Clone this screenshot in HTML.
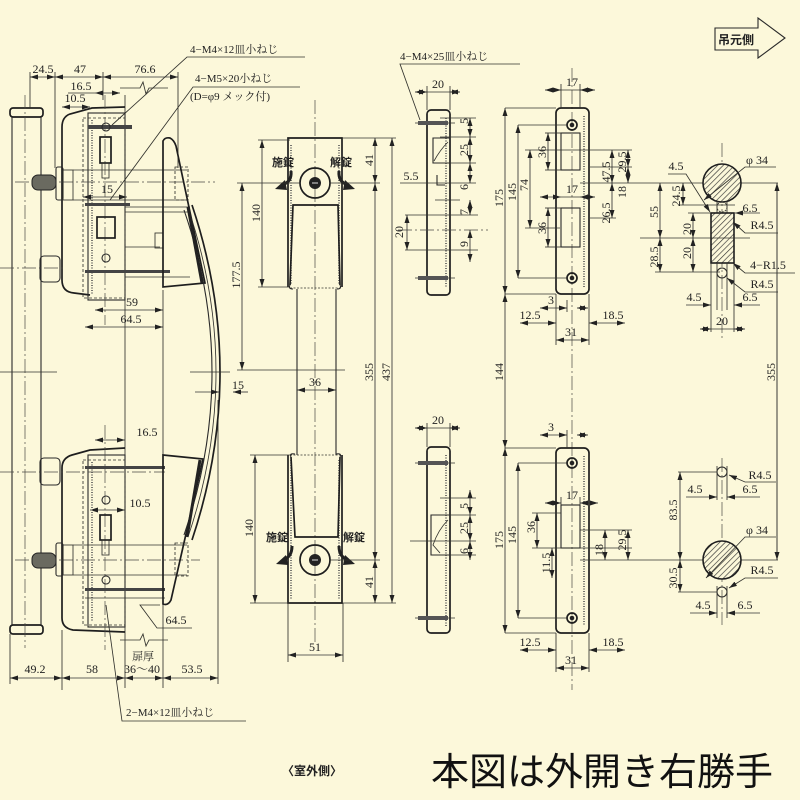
<!DOCTYPE html>
<html><head><meta charset="utf-8">
<style>
html,body{margin:0;padding:0;background:#fcf8da;}
svg{display:block}
.l{stroke:#33332e;stroke-width:.85;fill:none}
.k{stroke:#1e1e1e;stroke-width:1.7;fill:none}
.m{stroke:#2a2a2a;stroke-width:1.1;fill:none}
.c{stroke:#4a4a44;stroke-width:.7;fill:none;stroke-dasharray:14 3 2 3}
.d{stroke:#333;stroke-width:.85;fill:none}
.dt{stroke:#555;stroke-width:1.6;fill:none;stroke-dasharray:1 1.5}
text{font-family:"Liberation Serif","Noto Serif CJK JP",serif;font-size:12px;fill:#222}
.s{font-size:11px}
.b{font-family:"Liberation Sans","Noto Sans CJK JP",sans-serif;font-weight:bold;font-size:11px}
</style></head><body>
<svg width="800" height="800" viewBox="0 0 800 800" xmlns="http://www.w3.org/2000/svg">
<defs>
<marker id="a" markerUnits="userSpaceOnUse" markerWidth="8" markerHeight="5" refX="8" refY="2.5" orient="auto-start-reverse" viewBox="0 0 8 5"><path d="M0,0L8,2.5L0,5z" fill="#222"/></marker>
<pattern id="h" width="4" height="4" patternUnits="userSpaceOnUse" patternTransform="rotate(45)"><rect width="4" height="4" fill="#fcf8da"/><line x1="0" y1="0" x2="0" y2="4" stroke="#333" stroke-width="1.3"/></pattern>
</defs>
<rect width="800" height="800" fill="#fcf8da"/>

<!-- ================= LEFT SIDE VIEW ================= -->
<rect class="k" x="10" y="108" width="33" height="9" rx="3"/>
<rect class="k" x="10" y="625" width="33" height="9" rx="3"/>
<line class="m" x1="12" y1="117" x2="12" y2="625"/>
<line class="m" x1="41" y1="117" x2="41" y2="625"/>
<line class="c" x1="25" y1="95" x2="25" y2="648"/>

<line class="l" x1="30" y1="72" x2="30" y2="108"/>
<line class="l" x1="55" y1="72" x2="55" y2="168"/>
<line class="l" x1="103" y1="72" x2="103" y2="100"/>
<line class="l" x1="178" y1="72" x2="178" y2="168"/>
<line class="l" x1="125" y1="95" x2="125" y2="688"/>
<line class="l" x1="163" y1="290" x2="163" y2="688"/>
<line class="l" x1="62" y1="630" x2="62" y2="690"/>
<line class="l" x1="218" y1="400" x2="218" y2="684"/>
<line class="l" x1="10" y1="634" x2="10" y2="684"/>

<g class="d" marker-start="url(#a)" marker-end="url(#a)">
<line x1="30" y1="77" x2="55" y2="77"/>
<line x1="55" y1="77" x2="103" y2="77"/>
<line x1="103" y1="77" x2="178" y2="77"/>
<line x1="95" y1="93" x2="120" y2="93"/>
<line x1="62" y1="107" x2="90" y2="107"/>
<line x1="83" y1="197" x2="127" y2="197"/>
<line x1="95" y1="310" x2="163" y2="310"/>
<line x1="85" y1="327" x2="163" y2="327"/>
<line x1="95" y1="440" x2="125" y2="440"/>
<line x1="90" y1="510" x2="125" y2="510"/>
<line x1="10" y1="678" x2="62" y2="678"/>
<line x1="62" y1="678" x2="125" y2="678"/>
<line x1="125" y1="678" x2="163" y2="678"/>
<line x1="163" y1="678" x2="218" y2="678"/>
</g>
<line class="l" x1="68" y1="93" x2="95" y2="93"/>
<line class="l" x1="120" y1="107" x2="125" y2="107"/>
<path class="l" d="M120,88 L140,88 L143,82 L146,94 L149,88 L168,88"/>
<path class="l" d="M120,640 L140,640 L143,634 L146,646 L149,640 L168,640"/>
<text x="43" y="73" text-anchor="middle">24.5</text>
<text x="80" y="73" text-anchor="middle">47</text>
<text x="145" y="73" text-anchor="middle">76.6</text>
<text x="81" y="90" text-anchor="middle">16.5</text>
<text x="75" y="102" text-anchor="middle">10.5</text>
<text x="107" y="193" text-anchor="middle">15</text>
<text x="132" y="306" text-anchor="middle">59</text>
<text x="131" y="323" text-anchor="middle">64.5</text>
<text x="147" y="436" text-anchor="middle">16.5</text>
<text x="140" y="507" text-anchor="middle">10.5</text>
<text x="176" y="624" text-anchor="middle">64.5</text>
<path class="l" d="M160,605 L140,605 L157,628 L192,628"/>
<text x="143" y="660" text-anchor="middle" class="s">扉厚</text>
<text x="142" y="673" text-anchor="middle">36〜40</text>
<text x="35" y="673" text-anchor="middle">49.2</text>
<text x="92" y="673" text-anchor="middle">58</text>
<text x="192" y="673" text-anchor="middle">53.5</text>

<text x="190" y="53" class="s">4−M4×12皿小ねじ</text>
<path class="l" d="M305,57 L187,57 L112,125"/>
<text x="195" y="82" class="s">4−M5×20小ねじ</text>
<text x="190" y="100" class="s">(D=φ9 メック付)</text>
<path class="l" d="M300,87 L193,87 L110,200"/>
<text x="126" y="716" class="s">2−M4×12皿小ねじ</text>
<path class="l" d="M246,721 L122,721 L106,605"/>

<!-- upper lockcase -->
<path class="k" d="M125,107 L92,108 L70,114 Q62,117 62,127 L62,280 Q62,292 74,293 L90,295"/>
<rect class="m" x="88" y="113" width="37" height="187"/>
<rect class="l" x="83" y="118" width="42" height="180" stroke-dasharray="3 2"/>
<line class="dt" x1="92" y1="120" x2="92" y2="295"/>
<line class="c" x1="105" y1="95" x2="105" y2="325"/>
<rect x="88" y="125" width="44" height="4" fill="#444"/>
<circle class="m" cx="106" cy="127" r="4"/>
<rect class="k" x="100" y="137" width="11" height="26"/>
<rect class="l" x="102" y="163" width="7" height="15"/>
<rect x="85" y="203" width="45" height="3" fill="#444"/>
<line class="l" x1="125" y1="207" x2="190" y2="207"/>
<line class="l" x1="125" y1="212" x2="190" y2="212"/>
<rect class="k" x="97" y="217" width="18" height="21"/>
<line class="l" x1="125" y1="247" x2="160" y2="247"/>
<rect class="l" x="155" y="233" width="8" height="15"/>
<circle class="m" cx="106" cy="258" r="4"/>
<rect x="85" y="270" width="85" height="3" fill="#444"/>
<line class="l" x1="125" y1="277" x2="190" y2="277"/>

<line class="c" x1="15" y1="182" x2="215" y2="182"/>
<rect x="32" y="175" width="24" height="15" rx="6" fill="#6a6a60" stroke="#222" stroke-width="1"/>
<rect class="m" x="56" y="167" width="7" height="33" rx="2"/>
<rect class="l" x="63" y="170" width="10" height="30"/>
<line class="l" x1="73" y1="170" x2="187" y2="170"/>
<line class="l" x1="73" y1="200" x2="187" y2="200"/>
<rect class="l" x="175" y="167" width="13" height="33" stroke-dasharray="3 2"/>
<line class="c" x1="0" y1="268" x2="64" y2="268"/>
<rect class="m" x="40" y="256" width="20" height="26" rx="4"/>
<line class="l" x1="0" y1="372" x2="57" y2="372"/>

<!-- lower lockcase -->
<path class="k" d="M125,448 L90,450 L72,455 Q62,458 62,468 L62,618 Q62,628 73,630 L125,632"/>
<rect class="m" x="88" y="455" width="37" height="172"/>
<rect class="l" x="83" y="460" width="42" height="165" stroke-dasharray="3 2"/>
<line class="dt" x1="92" y1="462" x2="92" y2="622"/>
<line class="c" x1="105" y1="425" x2="105" y2="650"/>
<line class="c" x1="0" y1="472" x2="165" y2="472"/>
<rect x="85" y="466" width="80" height="3" fill="#444"/>
<rect class="m" x="40" y="458" width="20" height="27" rx="4"/>
<circle class="m" cx="106" cy="500" r="4"/>
<rect class="k" x="100" y="515" width="11" height="25"/>
<rect class="l" x="102" y="540" width="7" height="15"/>
<circle class="m" cx="106" cy="580" r="4"/>
<rect x="85" y="588" width="80" height="3" fill="#444"/>
<line class="l" x1="85" y1="598" x2="165" y2="598"/>
<line class="c" x1="15" y1="560" x2="200" y2="560"/>
<rect x="32" y="553" width="24" height="15" rx="6" fill="#6a6a60" stroke="#222" stroke-width="1"/>
<rect class="m" x="56" y="543" width="7" height="33" rx="2"/>
<rect class="l" x="63" y="545" width="10" height="30"/>
<line class="l" x1="73" y1="545" x2="187" y2="545"/>
<line class="l" x1="73" y1="575" x2="187" y2="575"/>
<rect class="l" x="175" y="543" width="13" height="33" stroke-dasharray="3 2"/>

<!-- curved pull handle -->
<path class="k" d="M163,287 L163,141 Q165,137 170,138 Q174,140 176,146 L205,283 Z"/>
<path class="k" d="M163,455 L203,459 L171,600 Q168,606 163,604 Z"/>
<path class="k" d="M192,205 Q248,372 192,540"/>
<path class="m" d="M184,210 Q240,372 184,535"/>
<path class="l" d="M188,208 Q244,372 188,537"/>
<line x1="188" y1="207" x2="202" y2="283" stroke="#222" stroke-width="3"/>
<line x1="200" y1="460" x2="187" y2="537" stroke="#222" stroke-width="3"/>
<line class="l" x1="190" y1="372" x2="230" y2="372"/>
<g class="d" marker-end="url(#a)"><line x1="195" y1="392" x2="219" y2="392"/><line x1="248" y1="392" x2="233" y2="392"/></g>
<text x="238" y="389" text-anchor="middle">15</text>

<!-- ================= FRONT VIEW ================= -->
<line class="c" x1="315" y1="100" x2="315" y2="645"/>
<path class="k" d="M288,287 L288,138 L342,138 L342,287"/>
<line class="dt" x1="291" y1="145" x2="291" y2="285"/>
<line class="dt" x1="339" y1="145" x2="339" y2="285"/>
<path class="k" d="M290,285 L293,205 L338,205 L340,285"/>
<path class="m" d="M290,285 Q288,289 293,289"/>
<path class="m" d="M340,285 Q342,289 337,289"/>
<line class="l" x1="290" y1="288" x2="340" y2="288" stroke-dasharray="2 1.5"/>
<line class="m" x1="297" y1="289" x2="297" y2="455"/>
<line class="m" x1="336" y1="289" x2="336" y2="455"/>
<path class="k" d="M288,455 L288,603 L342,603 L342,455"/>
<line class="dt" x1="291" y1="460" x2="291" y2="600"/>
<line class="dt" x1="339" y1="460" x2="339" y2="600"/>
<path class="k" d="M291,457 L295,537 L338,537 L340,457"/>
<path class="m" d="M291,457 Q289,453 295,454"/>
<path class="m" d="M340,457 Q342,453 336,454"/>
<line class="l" x1="290" y1="455" x2="340" y2="455" stroke-dasharray="2 1.5"/>
<circle class="k" cx="315" cy="183" r="15"/>
<circle cx="315" cy="183" r="6" fill="#222"/>
<line x1="312" y1="183" x2="318" y2="183" stroke="#ddd" stroke-width="1"/>
<circle class="k" cx="315" cy="560" r="15"/>
<circle cx="315" cy="560" r="6" fill="#222"/>
<line x1="312" y1="560" x2="318" y2="560" stroke="#ddd" stroke-width="1"/>
<text x="272" y="166" class="b">施錠</text>
<text x="330" y="166" class="b">解錠</text>
<text x="266" y="541" class="b">施錠</text>
<text x="343" y="541" class="b">解錠</text>
<path d="M291,171 Q292,182 282,185" stroke="#222" stroke-width="3" fill="none"/>
<path d="M285,180 L275,189 L287,190 Z" fill="#222"/>
<path d="M339,171 Q338,182 348,185" stroke="#222" stroke-width="3" fill="none"/>
<path d="M345,180 L355,189 L343,190 Z" fill="#222"/>
<path d="M292,546 Q292,557 283,560" stroke="#222" stroke-width="3" fill="none"/>
<path d="M286,555 L276,564 L288,565 Z" fill="#222"/>
<path d="M339,546 Q339,557 348,560" stroke="#222" stroke-width="3" fill="none"/>
<path d="M345,555 L355,564 L343,565 Z" fill="#222"/>

<line class="l" x1="342" y1="138" x2="396" y2="138"/>
<line class="l" x1="330" y1="183" x2="380" y2="183"/>
<line class="l" x1="330" y1="560" x2="380" y2="560"/>
<line class="l" x1="342" y1="603" x2="396" y2="603"/>
<line class="l" x1="258" y1="140" x2="290" y2="140"/>
<line class="l" x1="258" y1="287" x2="290" y2="287"/>
<line class="l" x1="237" y1="183" x2="300" y2="183"/>
<line class="l" x1="237" y1="370" x2="345" y2="370"/>
<line class="l" x1="250" y1="455" x2="292" y2="455"/>
<line class="l" x1="250" y1="603" x2="290" y2="603"/>
<line class="l" x1="288" y1="603" x2="288" y2="662"/>
<line class="l" x1="343" y1="603" x2="343" y2="662"/>
<g class="d" marker-start="url(#a)" marker-end="url(#a)">
<line x1="375" y1="138" x2="375" y2="183"/>
<line x1="375" y1="183" x2="375" y2="560"/>
<line x1="375" y1="560" x2="375" y2="603"/>
<line x1="392" y1="138" x2="392" y2="603"/>
<line x1="262" y1="140" x2="262" y2="287"/>
<line x1="242" y1="183" x2="242" y2="370"/>
<line x1="255" y1="455" x2="255" y2="603"/>
<line x1="297" y1="390" x2="336" y2="390"/>
<line x1="288" y1="655" x2="343" y2="655"/>
</g>
<text transform="translate(373,160) rotate(-90)" text-anchor="middle">41</text>
<text transform="translate(373,372) rotate(-90)" text-anchor="middle">355</text>
<text transform="translate(390,372) rotate(-90)" text-anchor="middle">437</text>
<text transform="translate(373,582) rotate(-90)" text-anchor="middle">41</text>
<text transform="translate(260,213) rotate(-90)" text-anchor="middle">140</text>
<text transform="translate(240,275) rotate(-90)" text-anchor="middle">177.5</text>
<text transform="translate(253,528) rotate(-90)" text-anchor="middle">140</text>
<text x="315" y="386" text-anchor="middle">36</text>
<text x="315" y="651" text-anchor="middle">51</text>

<!-- ================= STRIKE SIDE VIEWS ================= -->
<text x="400" y="60" class="s">4−M4×25皿小ねじ</text>
<path class="l" d="M520,64 L400,64 L420,120"/>
<rect class="k" x="427" y="110" width="23" height="185" rx="4"/>
<line class="dt" x1="446" y1="118" x2="446" y2="288"/>
<line class="l" x1="415" y1="123" x2="455" y2="123"/>
<rect x="418" y="121" width="30" height="4" fill="#555"/>
<line class="l" x1="415" y1="278" x2="455" y2="278"/>
<rect x="418" y="276" width="30" height="4" fill="#555"/>
<path class="m" d="M450,138 L433,138 L433,163 L450,163"/>
<path class="l" d="M448,142 Q440,150 434,161"/>
<path class="m" d="M437,175 L437,185 L445,185"/>
<line class="l" x1="435" y1="200" x2="460" y2="200"/>
<line class="l" x1="405" y1="215" x2="478" y2="215"/>
<line class="c" x1="398" y1="230" x2="488" y2="230"/>
<line class="l" x1="405" y1="250" x2="478" y2="250"/>
<line class="l" x1="440" y1="118" x2="476" y2="118"/>
<line class="l" x1="440" y1="137" x2="476" y2="137"/>
<line class="l" x1="440" y1="163" x2="476" y2="163"/>
<line class="l" x1="400" y1="183" x2="476" y2="183"/>
<line class="l" x1="427" y1="86" x2="427" y2="110"/>
<line class="l" x1="450" y1="86" x2="450" y2="110"/>
<g class="d" marker-start="url(#a)" marker-end="url(#a)">
<line x1="415" y1="92" x2="427" y2="92"/>
<line x1="450" y1="92" x2="460" y2="92"/>
<line x1="470" y1="118" x2="470" y2="137"/>
<line x1="470" y1="137" x2="470" y2="163"/>
<line x1="470" y1="163" x2="470" y2="183"/>
<line x1="407" y1="215" x2="407" y2="250"/>
<line x1="470" y1="200" x2="470" y2="215"/>
<line x1="470" y1="230" x2="470" y2="262"/>
</g>
<line class="l" x1="427" y1="92" x2="450" y2="92"/>
<text x="438" y="88" text-anchor="middle">20</text>
<text transform="translate(468,121) rotate(-90)" text-anchor="middle">5</text>
<text transform="translate(468,150) rotate(-90)" text-anchor="middle">25</text>
<text transform="translate(468,187) rotate(-90)" text-anchor="middle">6</text>
<text transform="translate(468,212) rotate(-90)" text-anchor="middle">7</text>
<text transform="translate(468,244) rotate(-90)" text-anchor="middle">9</text>
<text transform="translate(403,232) rotate(-90)" text-anchor="middle">20</text>
<text x="411" y="180" text-anchor="middle">5.5</text>
<rect class="k" x="427" y="447" width="23" height="186" rx="4"/>
<line class="dt" x1="446" y1="455" x2="446" y2="626"/>
<line class="l" x1="415" y1="463" x2="455" y2="463"/>
<rect x="418" y="461" width="30" height="4" fill="#555"/>
<line class="l" x1="415" y1="618" x2="455" y2="618"/>
<rect x="418" y="616" width="30" height="4" fill="#555"/>
<path class="m" d="M450,515 L431,515 L431,555 L450,555"/>
<path class="l" d="M448,520 Q438,530 433,545 L440,553"/>
<line class="l" x1="440" y1="498" x2="476" y2="498"/>
<line class="l" x1="440" y1="515" x2="476" y2="515"/>
<line class="l" x1="410" y1="541" x2="476" y2="541"/>
<line class="l" x1="440" y1="555" x2="476" y2="555"/>
<line class="l" x1="427" y1="423" x2="427" y2="447"/>
<line class="l" x1="450" y1="423" x2="450" y2="447"/>
<g class="d" marker-start="url(#a)" marker-end="url(#a)">
<line x1="415" y1="428" x2="427" y2="428"/>
<line x1="450" y1="428" x2="460" y2="428"/>
<line x1="470" y1="490" x2="470" y2="515"/>
<line x1="470" y1="515" x2="470" y2="541"/>
<line x1="470" y1="541" x2="470" y2="560"/>
</g>
<line class="l" x1="427" y1="428" x2="450" y2="428"/>
<text x="438" y="424" text-anchor="middle">20</text>
<text transform="translate(468,506) rotate(-90)" text-anchor="middle">5</text>
<text transform="translate(468,528) rotate(-90)" text-anchor="middle">25</text>
<text transform="translate(468,551) rotate(-90)" text-anchor="middle">6</text>

<!-- ================= STRIKE FRONT VIEWS ================= -->
<line class="c" x1="572" y1="68" x2="572" y2="690"/>
<rect class="k" x="556" y="108" width="33" height="186" rx="5"/>
<line class="dt" x1="584" y1="116" x2="584" y2="288"/>
<circle class="k" cx="572" cy="125" r="5"/>
<circle cx="572" cy="125" r="2.3" fill="#222"/>
<circle class="k" cx="572" cy="278" r="5"/>
<circle cx="572" cy="278" r="2.3" fill="#222"/>
<rect class="m" x="561" y="133" width="19" height="37"/>
<rect class="m" x="561" y="208" width="19" height="39"/>
<line class="l" x1="505" y1="108" x2="556" y2="108"/>
<line class="l" x1="505" y1="294" x2="556" y2="294"/>
<line class="l" x1="518" y1="125" x2="567" y2="125"/>
<line class="l" x1="518" y1="278" x2="567" y2="278"/>
<line class="l" x1="525" y1="150" x2="632" y2="150"/>
<line class="l" x1="525" y1="228" x2="560" y2="228"/>
<line class="l" x1="545" y1="133" x2="561" y2="133"/>
<line class="l" x1="545" y1="170" x2="561" y2="170"/>
<line class="l" x1="545" y1="208" x2="561" y2="208"/>
<line class="l" x1="545" y1="247" x2="561" y2="247"/>
<line class="l" x1="590" y1="167" x2="632" y2="167"/>
<line class="l" x1="580" y1="183" x2="778" y2="183"/>
<line class="l" x1="590" y1="218" x2="616" y2="218"/>
<line class="l" x1="561" y1="84" x2="561" y2="108"/>
<line class="l" x1="580" y1="84" x2="580" y2="108"/>
<g class="d" marker-start="url(#a)" marker-end="url(#a)">
<line x1="545" y1="90" x2="561" y2="90"/>
<line x1="580" y1="90" x2="595" y2="90"/>
<line x1="540" y1="197" x2="561" y2="197"/>
<line x1="580" y1="197" x2="595" y2="197"/>
<line x1="505" y1="108" x2="505" y2="294"/>
<line x1="518" y1="125" x2="518" y2="278"/>
<line x1="530" y1="150" x2="530" y2="228"/>
<line x1="548" y1="133" x2="548" y2="170"/>
<line x1="548" y1="208" x2="548" y2="247"/>
<line x1="612" y1="150" x2="612" y2="183"/>
<line x1="612" y1="183" x2="612" y2="218"/>
<line x1="628" y1="150" x2="628" y2="167"/>
<line x1="628" y1="167" x2="628" y2="183"/>
<line x1="505" y1="294" x2="505" y2="448"/>
<line x1="540" y1="308" x2="567" y2="308"/>
<line x1="577" y1="308" x2="588" y2="308"/>
<line x1="520" y1="323" x2="556" y2="323"/>
<line x1="625" y1="323" x2="589" y2="323"/>
<line x1="556" y1="340" x2="589" y2="340"/>
</g>
<line class="l" x1="561" y1="90" x2="580" y2="90"/>
<line class="l" x1="561" y1="197" x2="580" y2="197"/>
<line class="l" x1="556" y1="294" x2="556" y2="345"/>
<line class="l" x1="589" y1="294" x2="589" y2="345"/>
<line class="l" x1="567" y1="300" x2="567" y2="312"/>
<text x="572" y="86" text-anchor="middle">17</text>
<text x="572" y="193" text-anchor="middle">17</text>
<text transform="translate(503,198) rotate(-90)" text-anchor="middle">175</text>
<text transform="translate(516,192) rotate(-90)" text-anchor="middle">145</text>
<text transform="translate(528,185) rotate(-90)" text-anchor="middle">74</text>
<text transform="translate(546,152) rotate(-90)" text-anchor="middle">36</text>
<text transform="translate(546,228) rotate(-90)" text-anchor="middle">36</text>
<text transform="translate(610,172) rotate(-90)" text-anchor="middle">47.5</text>
<text transform="translate(610,213) rotate(-90)" text-anchor="middle">26.5</text>
<text transform="translate(626,162) rotate(-90)" text-anchor="middle">29.5</text>
<text transform="translate(626,192) rotate(-90)" text-anchor="middle">18</text>
<text transform="translate(503,372) rotate(-90)" text-anchor="middle">144</text>
<text x="551" y="304" text-anchor="middle">3</text>
<text x="530" y="319" text-anchor="middle">12.5</text>
<text x="613" y="319" text-anchor="middle">18.5</text>
<text x="571" y="336" text-anchor="middle">31</text>
<rect class="k" x="556" y="448" width="33" height="185" rx="5"/>
<line class="dt" x1="584" y1="456" x2="584" y2="626"/>
<circle class="k" cx="572" cy="463" r="5"/>
<circle cx="572" cy="463" r="2.3" fill="#222"/>
<circle class="k" cx="572" cy="618" r="5"/>
<circle cx="572" cy="618" r="2.3" fill="#222"/>
<rect class="m" x="561" y="505" width="19" height="43"/>
<line class="l" x1="505" y1="448" x2="556" y2="448"/>
<line class="l" x1="505" y1="633" x2="556" y2="633"/>
<line class="l" x1="518" y1="463" x2="567" y2="463"/>
<line class="l" x1="518" y1="618" x2="567" y2="618"/>
<line class="l" x1="532" y1="513" x2="561" y2="513"/>
<line class="l" x1="532" y1="548" x2="632" y2="548"/>
<line class="l" x1="580" y1="560" x2="778" y2="560"/>
<line class="l" x1="580" y1="530" x2="632" y2="530"/>
<line class="l" x1="567" y1="430" x2="567" y2="448"/>
<line class="l" x1="561" y1="497" x2="561" y2="505"/>
<line class="l" x1="580" y1="497" x2="580" y2="505"/>
<g class="d" marker-start="url(#a)" marker-end="url(#a)">
<line x1="540" y1="435" x2="567" y2="435"/>
<line x1="577" y1="435" x2="588" y2="435"/>
<line x1="545" y1="503" x2="561" y2="503"/>
<line x1="580" y1="503" x2="598" y2="503"/>
<line x1="505" y1="448" x2="505" y2="633"/>
<line x1="518" y1="463" x2="518" y2="618"/>
<line x1="537" y1="513" x2="537" y2="548"/>
<line x1="552" y1="548" x2="552" y2="578"/>
<line x1="605" y1="530" x2="605" y2="560"/>
<line x1="628" y1="530" x2="628" y2="560"/>
<line x1="520" y1="650" x2="556" y2="650"/>
<line x1="625" y1="650" x2="589" y2="650"/>
<line x1="556" y1="668" x2="589" y2="668"/>
</g>
<line class="l" x1="556" y1="633" x2="556" y2="672"/>
<line class="l" x1="589" y1="633" x2="589" y2="672"/>
<text x="551" y="431" text-anchor="middle">3</text>
<text x="572" y="499" text-anchor="middle">17</text>
<text transform="translate(503,540) rotate(-90)" text-anchor="middle">175</text>
<text transform="translate(516,535) rotate(-90)" text-anchor="middle">145</text>
<text transform="translate(535,527) rotate(-90)" text-anchor="middle">36</text>
<text transform="translate(550,563) rotate(-90)" text-anchor="middle">11.5</text>
<text transform="translate(603,550) rotate(-90)" text-anchor="middle">18</text>
<text transform="translate(626,540) rotate(-90)" text-anchor="middle">29.5</text>
<text x="530" y="646" text-anchor="middle">12.5</text>
<text x="613" y="646" text-anchor="middle">18.5</text>
<text x="571" y="664" text-anchor="middle">31</text>

<!-- ================= RIGHT COLUMN ================= -->
<path class="m" d="M715,28 L758,28 L758,18 L785,38 L758,58 L758,50 L715,50 Z"/>
<text x="736" y="44" text-anchor="middle" class="b" style="font-size:12px">吊元側</text>

<line class="c" x1="722" y1="143" x2="722" y2="340"/>
<circle cx="722" cy="183" r="19" fill="url(#h)" stroke="#1e1e1e" stroke-width="1.6"/>
<line class="l" x1="717" y1="201" x2="717" y2="213"/>
<line class="l" x1="727" y1="201" x2="727" y2="213"/>
<rect x="711" y="213" width="23" height="50" fill="url(#h)" stroke="#1e1e1e" stroke-width="1.6"/>
<circle class="l" cx="722" cy="207" r="5" stroke-dasharray="2 1"/>
<circle class="m" cx="722" cy="273" r="5"/>
<line class="l" x1="711" y1="263" x2="711" y2="332"/>
<line class="l" x1="717" y1="263" x2="717" y2="310"/>
<line class="l" x1="727" y1="263" x2="727" y2="310"/>
<line class="l" x1="734" y1="263" x2="734" y2="332"/>
<line class="l" x1="678" y1="205" x2="735" y2="205"/>
<line class="l" x1="688" y1="213" x2="711" y2="213"/>
<line class="l" x1="640" y1="238" x2="750" y2="238"/>
<line class="l" x1="655" y1="272" x2="720" y2="272"/>
<line class="l" x1="777" y1="183" x2="777" y2="560"/>
<g class="d" marker-start="url(#a)" marker-end="url(#a)">
<line x1="660" y1="183" x2="660" y2="238"/>
<line x1="660" y1="238" x2="660" y2="272"/>
<line x1="683" y1="183" x2="683" y2="205"/>
<line x1="693" y1="213" x2="693" y2="238"/>
<line x1="693" y1="238" x2="693" y2="272"/>
<line x1="777" y1="183" x2="777" y2="560"/>
<line x1="700" y1="329" x2="711" y2="329"/>
<line x1="745" y1="329" x2="734" y2="329"/>
<line x1="680" y1="472" x2="680" y2="560"/>
<line x1="680" y1="560" x2="680" y2="592"/>
</g>
<line class="l" x1="711" y1="329" x2="734" y2="329"/>
<text transform="translate(658,212) rotate(-90)" text-anchor="middle">55</text>
<text transform="translate(658,257) rotate(-90)" text-anchor="middle">28.5</text>
<text transform="translate(680,196) rotate(-90)" text-anchor="middle">24.5</text>
<text transform="translate(691,229) rotate(-90)" text-anchor="middle">20</text>
<text transform="translate(691,253) rotate(-90)" text-anchor="middle">20</text>
<text transform="translate(775,372) rotate(-90)" text-anchor="middle">355</text>
<text x="722" y="325" text-anchor="middle">20</text>
<text x="757" y="164" text-anchor="middle">φ 34</text>
<path class="l" d="M776,167 L745,167 L704,200" marker-end="url(#a)"/>
<text x="676" y="170" text-anchor="middle">4.5</text>
<path class="l" d="M668,174 L686,174 L710,212" marker-end="url(#a)"/>
<text x="750" y="212" text-anchor="middle">6.5</text>
<line class="d" x1="760" y1="213" x2="735" y2="213" marker-end="url(#a)"/>
<text x="762" y="229" text-anchor="middle">R4.5</text>
<path class="l" d="M778,233 L745,233 L733,222" marker-end="url(#a)"/>
<text x="768" y="269" text-anchor="middle">4−R1.5</text>
<path class="l" d="M795,273 L745,273 L733,263" marker-end="url(#a)"/>
<text x="762" y="288" text-anchor="middle">R4.5</text>
<path class="l" d="M778,292 L745,292 L727,278" marker-end="url(#a)"/>
<text x="694" y="301" text-anchor="middle">4.5</text>
<line class="d" x1="686" y1="305" x2="711" y2="305" marker-end="url(#a)"/>
<text x="750" y="301" text-anchor="middle">6.5</text>
<line class="d" x1="760" y1="305" x2="734" y2="305" marker-end="url(#a)"/>

<line class="c" x1="722" y1="458" x2="722" y2="625"/>
<circle class="m" cx="722" cy="472" r="5"/>
<line class="l" x1="717" y1="466" x2="717" y2="500"/>
<line class="l" x1="727" y1="466" x2="727" y2="500"/>
<line class="l" x1="678" y1="472" x2="717" y2="472"/>
<text x="760" y="479" text-anchor="middle">R4.5</text>
<path class="l" d="M776,482 L745,482 L729,475" marker-end="url(#a)"/>
<text x="695" y="493" text-anchor="middle">4.5</text>
<line class="d" x1="686" y1="497" x2="717" y2="497" marker-end="url(#a)"/>
<text x="750" y="493" text-anchor="middle">6.5</text>
<line class="d" x1="760" y1="497" x2="727" y2="497" marker-end="url(#a)"/>
<circle cx="722" cy="560" r="19" fill="url(#h)" stroke="#1e1e1e" stroke-width="1.6"/>
<text x="757" y="534" text-anchor="middle">φ 34</text>
<path class="l" d="M776,537 L745,537 L706,578" marker-end="url(#a)"/>
<text x="762" y="574" text-anchor="middle">R4.5</text>
<path class="l" d="M778,578 L745,578 L729,588" marker-end="url(#a)"/>
<circle class="m" cx="722" cy="592" r="5"/>
<line class="l" x1="678" y1="592" x2="717" y2="592"/>
<line class="l" x1="717" y1="586" x2="717" y2="618"/>
<line class="l" x1="727" y1="586" x2="727" y2="618"/>
<text transform="translate(677,510) rotate(-90)" text-anchor="middle">83.5</text>
<text transform="translate(677,578) rotate(-90)" text-anchor="middle">30.5</text>
<text x="703" y="609" text-anchor="middle">4.5</text>
<line class="d" x1="690" y1="613" x2="717" y2="613" marker-end="url(#a)"/>
<text x="745" y="609" text-anchor="middle">6.5</text>
<line class="d" x1="760" y1="613" x2="727" y2="613" marker-end="url(#a)"/>

<text x="282" y="775" class="b" style="font-size:12px">〈室外側〉</text>
<text x="431" y="785" style="font-family:'Liberation Sans','Noto Sans CJK JP',sans-serif;font-size:38px;fill:#111">本図は外開き右勝手</text>
</svg>
</body></html>
